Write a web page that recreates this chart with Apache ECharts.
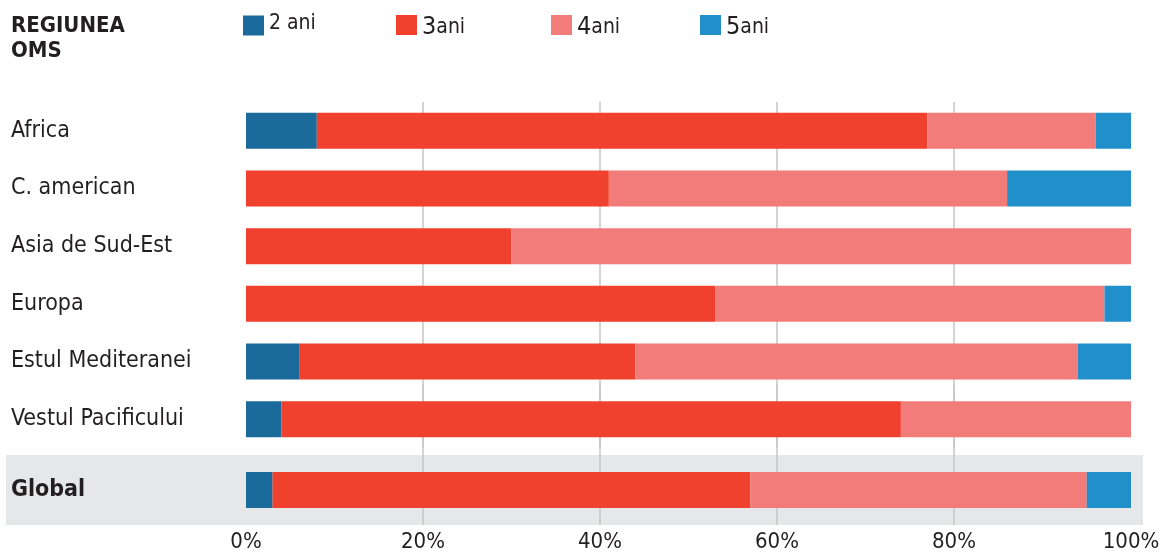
<!DOCTYPE html>
<html>
<head>
<meta charset="utf-8">
<script src="https://cdn.jsdelivr.net/npm/echarts@6/dist/echarts.min.js"></script>
<style>html,body{margin:0;padding:0;background:#fff;}#c{width:1166px;height:554px;}</style>
</head>
<body>
<div id="c"></div>
<script>
const categories = ['Africa', 'C. american', 'Asia de Sud-Est', 'Europa', 'Estul Mediteranei', 'Vestul Pacificului'];
const ani2 = [8, 0, 0, 0, 6, 4];
const ani3 = [69, 41, 30, 53, 38, 70];
const ani4 = [19, 45, 70, 44, 50, 26];
const ani5 = [4, 14, 0, 3, 6, 0];
const globalCategory = ['', 'Global'];
const globalValues = [3, 54, 38, 5];
const seriesNames = ['2 ani', '3ani', '4ani', '5ani'];
const xTicks = [0, 20, 40, 60, 80, 100];

const colors = ['#1a6a9c', '#ef412d', '#f27c79', '#2190ca'];
const FONT = 'DejaVu Sans Condensed, DejaVu Sans, sans-serif';
const TXT = '#231f20';
const legendLefts = [238, 391, 546, 695];
const legendTops = [8, 10, 10, 10];

const regional = [ani2, ani3, ani4, ani5];
const series = [];
seriesNames.forEach((n, i) => {
  series.push({
    name: n, type: 'bar', stack: 'r', xAxisIndex: 0, yAxisIndex: 0,
    barWidth: 36, itemStyle: { color: colors[i] }, data: regional[i]
  });
  series.push({
    name: n, type: 'bar', stack: 'g', xAxisIndex: 1, yAxisIndex: 1,
    barWidth: 36, itemStyle: { color: colors[i] }, data: ['-', globalValues[i]]
  });
});

const xCommon = {
  type: 'value', min: xTicks[0], max: xTicks[xTicks.length - 1], interval: 20,
  axisLine: { show: false }, axisTick: { show: false },
  splitLine: { show: true, showMinLine: false, showMaxLine: false, lineStyle: { color: '#c6c6c6', width: 1.5 } }
};

const legends = seriesNames.map((n, i) => ({
  left: legendLefts[i], top: legendTops[i], itemWidth: 21, itemHeight: 20, itemGap: 5,
  icon: 'rect', selectedMode: false,
  data: [n],
  formatter: function (name) {
    if (name === '2 ani') return '{s|2 ani}';
    return '{d|' + name.charAt(0) + '}{a|ani}';
  },
  textStyle: {
    color: TXT, fontFamily: FONT,
    rich: {
      s: { fontSize: 21, color: TXT, fontFamily: FONT, padding: [0, 0, 4, 0] },
      d: { fontSize: 25, color: TXT, fontFamily: FONT, padding: [5, 0, 0, 0] },
      a: { fontSize: 21, color: TXT, fontFamily: FONT, padding: [5, 0, 0, 0] }
    }
  }
}));

const chart = echarts.init(document.getElementById('c'));
chart.setOption({
  animation: false,
  textStyle: { fontFamily: FONT, color: TXT },
  graphic: [
    { type: 'rect', z: -10, shape: { x: 6, y: 455, width: 1137, height: 70 }, style: { fill: '#e6e7e8' } },
    { type: 'text', left: 11, top: 14, style: { text: 'REGIUNEA\nOMS', font: 'bold 22px ' + FONT, fill: TXT, lineHeight: 25 } }
  ],
  legend: legends,
  grid: [
    { left: 246, right: 35, top: 102, height: 346 },
    { left: 246, right: 35, top: 385, height: 140 }
  ],
  xAxis: [
    Object.assign({ gridIndex: 0, axisLabel: { show: false } }, xCommon),
    Object.assign({ gridIndex: 1, axisLabel: { show: true, margin: 6, fontSize: 22, color: TXT, fontFamily: FONT, formatter: '{value}%' } }, xCommon)
  ],
  yAxis: [
    {
      type: 'category', gridIndex: 0, inverse: true, data: categories,
      axisLine: { show: false }, axisTick: { show: false },
      axisLabel: { align: 'left', margin: 235, fontSize: 23, color: TXT, fontFamily: FONT }
    },
    {
      type: 'category', gridIndex: 1, inverse: true, data: globalCategory,
      axisLine: { show: false }, axisTick: { show: false },
      axisLabel: { align: 'left', margin: 235, fontSize: 23, fontWeight: 'bold', color: TXT, fontFamily: FONT }
    }
  ],
  series: series
});
</script>
</body>
</html>
